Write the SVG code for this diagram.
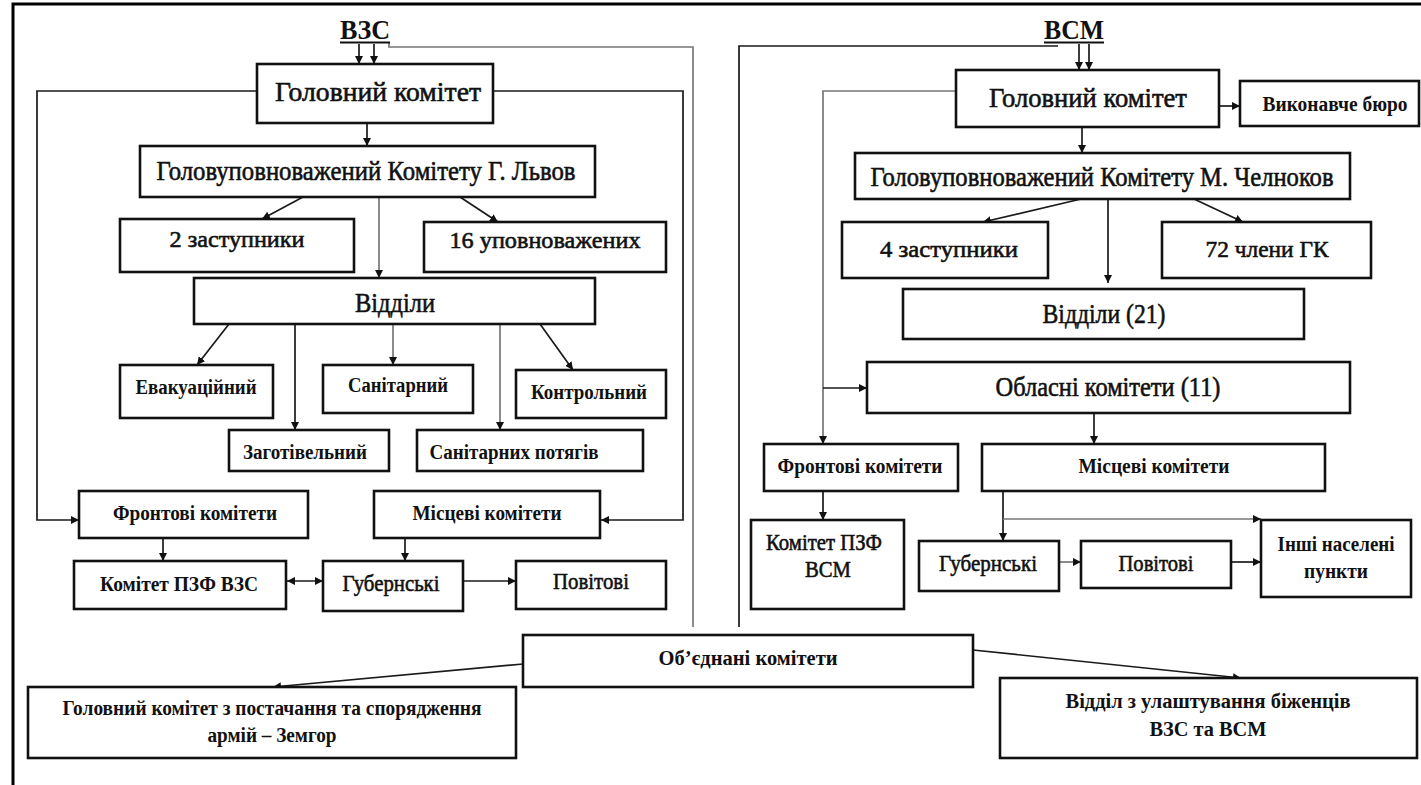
<svg xmlns="http://www.w3.org/2000/svg" width="1421" height="785" viewBox="0 0 1421 785">
<style>
.box{fill:#fff;stroke:#111;stroke-width:2.6}
.t{font-family:"Liberation Serif","DejaVu Serif","Times New Roman",serif;fill:#111;text-anchor:middle}
.L{font-size:28px;stroke:#111;stroke-width:0.6}
.M{font-size:24px;stroke:#111;stroke-width:0.6}
.S{font-size:20px;font-weight:bold}
.c{fill:none;stroke:#1a1a1a;stroke-width:1.7}
.g{fill:none;stroke:#777;stroke-width:1.7}
.a{marker-end:url(#ah)}
</style>
<defs>
<marker id="ah" markerUnits="userSpaceOnUse" markerWidth="9" markerHeight="9" refX="8" refY="4" orient="auto">
<path d="M0,0 L8,4 L0,8 z" fill="#111"/>
</marker>
<marker id="ahs" markerUnits="userSpaceOnUse" markerWidth="9" markerHeight="9" refX="0" refY="4" orient="auto">
<path d="M8,0 L0,4 L8,8 z" fill="#111"/>
</marker>
</defs>
<rect width="1421" height="785" fill="#fff"/>
<g id="frame">
<path d="M13,785 V4 H1421" fill="none" stroke="#000" stroke-width="3"/>
</g>
<g id="connectors">
<path class="g" d="M389,43 V47 H693 V627"/>
<path class="c a" d="M359,44 V64"/>
<path class="c a" d="M374,44 V64"/>
<path class="c a" d="M257,91 H37 V520 H79"/>
<path class="c a" d="M493,91 H683 V520 H601"/>
<path class="c a" d="M367,123 V146"/>
<path class="c a" d="M303,197 L262,219"/>
<path class="c a" d="M460,197 L498,222"/>
<path class="g a" d="M379,197 V278"/>
<path class="c a" d="M229,324 L197,365"/>
<path class="c a" d="M295,324 V430"/>
<path class="g a" d="M393,324 V365"/>
<path class="g a" d="M500,324 V430"/>
<path class="c a" d="M540,324 L573,370"/>
<path class="c a" d="M163,538 V561"/>
<path class="c a" d="M405,538 V561"/>
<path class="c a" d="M287,581 H323" marker-start="url(#ahs)"/>
<path class="c a" d="M463,581 H516"/>
<path class="c" d="M1058,46 H739 V627"/>
<path class="c a" d="M1079,44 V70"/>
<path class="c a" d="M1089,44 V70"/>
<path class="c a" d="M1219,106 H1240"/>
<path class="g a" d="M956,91 H823 V444"/>
<path class="c a" d="M823,388 H867"/>
<path class="c a" d="M1082,127 V153"/>
<path class="c a" d="M1081,199 L983,222"/>
<path class="c a" d="M1194,199 L1243,222"/>
<path class="c a" d="M1108,199 V283"/>
<path class="c a" d="M1094,413 V444"/>
<path class="c a" d="M823,491 V520"/>
<path class="c a" d="M1003,491 V541"/>
<path class="g a" d="M1003,519 H1261"/>
<path class="g a" d="M1059,562 H1081"/>
<path class="c a" d="M1231,562 H1261"/>
<path class="c a" d="M523,664 L273,687"/>
<path class="c a" d="M973,650 L1241,678"/>
</g>
<g id="title-vzs">
<text class="t" x="365" y="39" font-size="27" font-weight="bold" textLength="50" lengthAdjust="spacingAndGlyphs">ВЗС</text>
<line x1="340" y1="42.5" x2="390" y2="42.5" stroke="#111" stroke-width="2"/>
</g>
<g id="title-vsm">
<text class="t" x="1074" y="39" font-size="27" font-weight="bold" textLength="60" lengthAdjust="spacingAndGlyphs">ВСМ</text>
<line x1="1044" y1="42.5" x2="1104" y2="42.5" stroke="#111" stroke-width="2"/>
</g>
<g id="gk1"><rect class="box" x="257" y="64" width="236" height="59"/><text class="t L" x="378" y="101" textLength="206" lengthAdjust="spacingAndGlyphs">Головний комітет</text></g>
<g id="gp1"><rect class="box" x="140" y="146" width="455" height="51"/><text class="t L" x="366" y="180" textLength="419" lengthAdjust="spacingAndGlyphs">Головуповноважений Комітету Г. Львов</text></g>
<g id="z2"><rect class="box" x="120" y="219" width="234" height="53"/><text class="t M" x="237" y="247" textLength="135" lengthAdjust="spacingAndGlyphs">2 заступники</text></g>
<g id="u16"><rect class="box" x="424" y="222" width="242" height="50"/><text class="t M" x="545" y="248" textLength="191" lengthAdjust="spacingAndGlyphs">16 уповноважених</text></g>
<g id="vid1"><rect class="box" x="194" y="278" width="401" height="46"/><text class="t L" x="395" y="312" textLength="80" lengthAdjust="spacingAndGlyphs">Відділи</text></g>
<g id="evak"><rect class="box" x="120" y="365" width="153" height="53"/><text class="t S" x="196" y="394" textLength="121" lengthAdjust="spacingAndGlyphs">Евакуаційний</text></g>
<g id="sanit"><rect class="box" x="323" y="365" width="150" height="48"/><text class="t S" x="398" y="392" textLength="100" lengthAdjust="spacingAndGlyphs">Санітарний</text></g>
<g id="kontr"><rect class="box" x="516" y="370" width="150" height="48"/><text class="t S" x="589" y="399" textLength="116" lengthAdjust="spacingAndGlyphs">Контрольний</text></g>
<g id="zagot"><rect class="box" x="229" y="430" width="160" height="41"/><text class="t S" x="305" y="459" textLength="124" lengthAdjust="spacingAndGlyphs">Заготівельний</text></g>
<g id="santp"><rect class="box" x="417" y="430" width="226" height="41"/><text class="t S" x="514" y="459" textLength="169" lengthAdjust="spacingAndGlyphs">Санітарних потягів</text></g>
<g id="front1"><rect class="box" x="79" y="491" width="229" height="47"/><text class="t S" x="195" y="520" textLength="164" lengthAdjust="spacingAndGlyphs">Фронтові комітети</text></g>
<g id="misc1"><rect class="box" x="374" y="491" width="226" height="47"/><text class="t S" x="487" y="520" textLength="149" lengthAdjust="spacingAndGlyphs">Місцеві комітети</text></g>
<g id="pzf1"><rect class="box" x="74" y="561" width="212" height="48"/><text class="t S" x="179" y="591" textLength="158" lengthAdjust="spacingAndGlyphs">Комітет ПЗФ ВЗС</text></g>
<g id="gub1"><rect class="box" x="323" y="561" width="140" height="50"/><text class="t M" x="391" y="591" textLength="97" lengthAdjust="spacingAndGlyphs">Губернські</text></g>
<g id="pov1"><rect class="box" x="516" y="561" width="150" height="48"/><text class="t M" x="591" y="589" textLength="76" lengthAdjust="spacingAndGlyphs">Повітові</text></g>
<g id="obied"><rect class="box" x="523" y="635" width="450" height="52"/><text class="t S" x="748" y="665" textLength="179" lengthAdjust="spacingAndGlyphs">Об’єднані комітети</text></g>
<g id="zemgor"><rect class="box" x="28" y="687" width="488" height="71"/><text class="t S" x="272" y="715" textLength="419" lengthAdjust="spacingAndGlyphs">Головний комітет з постачання та спорядження</text><text class="t S" x="272" y="742" textLength="129" lengthAdjust="spacingAndGlyphs">армій – Земгор</text></g>
<g id="viddil"><rect class="box" x="1000" y="678" width="417" height="80"/><text class="t S" x="1208" y="708" textLength="285" lengthAdjust="spacingAndGlyphs">Відділ з улаштування біженців</text><text class="t S" x="1208" y="736" textLength="117" lengthAdjust="spacingAndGlyphs">ВЗС та ВСМ</text></g>
<g id="gk2"><rect class="box" x="956" y="70" width="263" height="57"/><text class="t L" x="1088" y="107" textLength="198" lengthAdjust="spacingAndGlyphs">Головний комітет</text></g>
<g id="vyk"><rect class="box" x="1240" y="81" width="179" height="45"/><text class="t S" x="1335" y="111" font-size="18" textLength="145" lengthAdjust="spacingAndGlyphs">Виконавче бюро</text></g>
<g id="gp2"><rect class="box" x="855" y="153" width="495" height="46"/><text class="t L" x="1102" y="186" textLength="463" lengthAdjust="spacingAndGlyphs">Головуповноважений Комітету М. Челноков</text></g>
<g id="z4"><rect class="box" x="842" y="222" width="206" height="56"/><text class="t M" x="949" y="257" textLength="138" lengthAdjust="spacingAndGlyphs">4 заступники</text></g>
<g id="c72"><rect class="box" x="1162" y="222" width="209" height="56"/><text class="t M" x="1267" y="257" textLength="123" lengthAdjust="spacingAndGlyphs">72 члени ГК</text></g>
<g id="vid2"><rect class="box" x="903" y="289" width="401" height="50"/><text class="t L" x="1104" y="323" textLength="123" lengthAdjust="spacingAndGlyphs">Відділи (21)</text></g>
<g id="obl"><rect class="box" x="867" y="362" width="483" height="51"/><text class="t L" x="1108" y="396" textLength="225" lengthAdjust="spacingAndGlyphs">Обласні комітети (11)</text></g>
<g id="front2"><rect class="box" x="764" y="444" width="194" height="47"/><text class="t S" x="860" y="473" textLength="165" lengthAdjust="spacingAndGlyphs">Фронтові комітети</text></g>
<g id="misc2"><rect class="box" x="982" y="444" width="343" height="47"/><text class="t S" x="1154" y="473" textLength="151" lengthAdjust="spacingAndGlyphs">Місцеві комітети</text></g>
<g id="pzf2"><rect class="box" x="751" y="520" width="153" height="89"/><text class="t M" x="824" y="550" textLength="116" lengthAdjust="spacingAndGlyphs">Комітет ПЗФ</text><text class="t M" x="828" y="577" textLength="46" lengthAdjust="spacingAndGlyphs">ВСМ</text></g>
<g id="gub2"><rect class="box" x="919" y="541" width="140" height="50"/><text class="t M" x="988" y="571" textLength="98" lengthAdjust="spacingAndGlyphs">Губернські</text></g>
<g id="pov2"><rect class="box" x="1081" y="541" width="150" height="47"/><text class="t M" x="1156" y="571" textLength="75" lengthAdjust="spacingAndGlyphs">Повітові</text></g>
<g id="inshi"><rect class="box" x="1261" y="520" width="150" height="77"/><text class="t S" x="1336" y="551" textLength="117" lengthAdjust="spacingAndGlyphs">Інші населені</text><text class="t S" x="1336" y="578" textLength="64" lengthAdjust="spacingAndGlyphs">пункти</text></g>
</svg>
